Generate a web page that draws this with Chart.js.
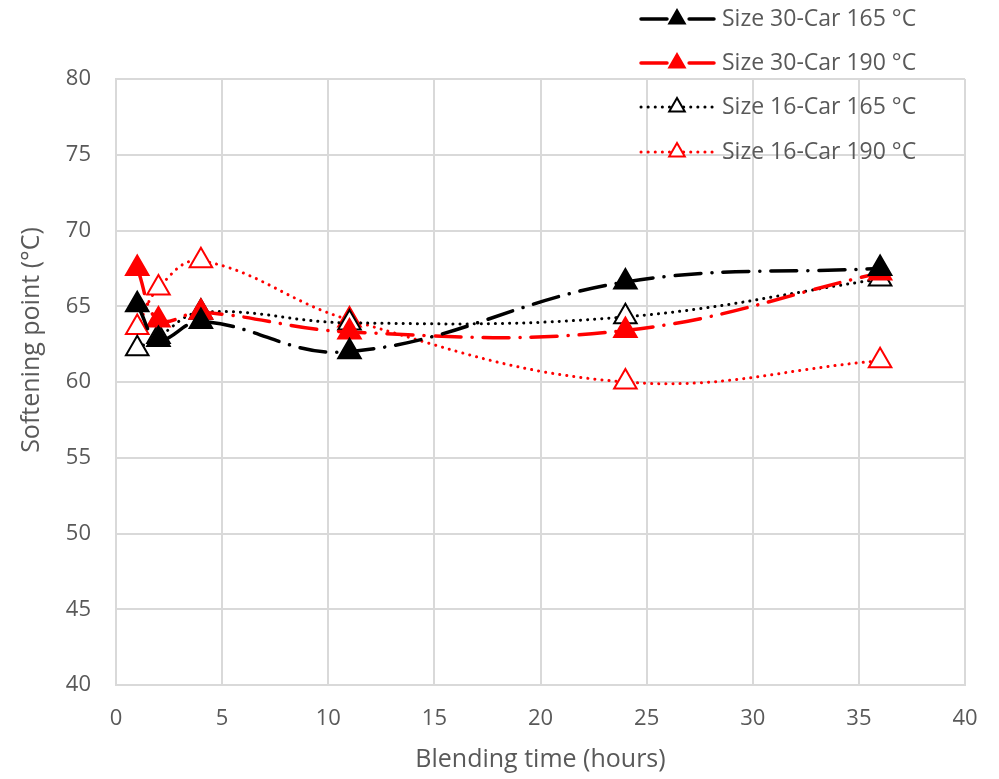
<!DOCTYPE html>
<html>
<head>
<meta charset="utf-8">
<script src="https://cdn.jsdelivr.net/npm/chart.js@4.4.1/dist/chart.umd.min.js"></script>
<style>
  html, body { margin: 0; padding: 0; background: #fff; }
  #wrap { width: 999px; height: 779px; }
</style>
</head>
<body>
<div id="wrap"><canvas id="softening"></canvas></div>
<script>
const blendHours = [1, 2, 4, 11, 24, 36]
const size30Car165 = [65.1, 62.8, 64.0, 62.0, 66.6, 67.5]
const size30Car190 = [67.5, 64.1, 64.6, 63.3, 63.4, 67.2]
const size16Car165 = [62.2, 63.0, 64.6, 63.9, 64.3, 66.8]
const size16Car190 = [63.6, 66.2, 68.0, 64.1, 60.0, 61.4]
const seriesNames = ["Size 30-Car 165 °C", "Size 30-Car 190 °C", "Size 16-Car 165 °C", "Size 16-Car 190 °C"]
const yTitle = "Softening point (°C)"

const fontFam = "'Open Sans', sans-serif"
const textCol = "#595959"
const gridCol = "#d9d9d9"
const dashDot = [26, 11, 0.1, 11]
const dotted = [0.1, 7]

const toPoints = (vals) => vals.map((v, i) => ({ x: blendHours[i], y: v }))

const makeSet = (label, vals, col, filled, dash, width) => ({
    label: label,
    data: toPoints(vals),
    borderColor: col,
    backgroundColor: col,
    borderWidth: width,
    borderDash: dash,
    borderCapStyle: 'round',
    tension: 0.4,
    pointStyle: 'triangle',
    pointRadius: 13,
    pointHoverRadius: 13,
    pointBackgroundColor: filled ? col : '#ffffff',
    pointBorderColor: col,
    pointBorderWidth: 2
})

// legend drawn Excel-like: line sample with marker in the middle
// plus the y title, which Excel puts a bit above the plot middle
const excelExtras = {
    id: 'excelExtras',
    afterDraw(chart) {
        const ctx = chart.ctx
        const rows = [19, 63, 107, 152]
        chart.data.datasets.forEach((ds, i) => {
            const y = rows[i]
            ctx.save()
            ctx.strokeStyle = ds.borderColor
            ctx.lineWidth = ds.borderWidth
            ctx.lineCap = 'round'
            ctx.setLineDash(ds.borderDash)
            ctx.beginPath()
            ctx.moveTo(641, y)
            ctx.lineTo(714, y)
            ctx.stroke()
            ctx.setLineDash([])
            ctx.lineWidth = 2
            ctx.fillStyle = ds.pointBackgroundColor
            Chart.helpers.drawPoint(ctx, { pointStyle: 'triangle', radius: 9, borderWidth: 2 }, 677, y)
            ctx.fillStyle = textCol
            ctx.font = "23px " + fontFam
            ctx.textBaseline = 'middle'
            ctx.textAlign = 'left'
            ctx.fillText(ds.label, 722, y)
            ctx.restore()
        })
        ctx.save()
        ctx.translate(32, 340)
        ctx.rotate(-Math.PI / 2)
        ctx.fillStyle = textCol
        ctx.font = "25px " + fontFam
        ctx.textAlign = 'center'
        ctx.textBaseline = 'middle'
        ctx.fillText(yTitle, 0, 0)
        ctx.restore()
    }
}

const ctx = document.getElementById('softening').getContext('2d')
const softeningChart = new Chart(ctx, {
    type: 'line',
    data: {
        datasets: [
            makeSet(seriesNames[0], size30Car165, '#000000', true, dashDot, 3.5),
            makeSet(seriesNames[1], size30Car190, '#ff0000', true, dashDot, 3.5),
            makeSet(seriesNames[2], size16Car165, '#000000', false, dotted, 3),
            makeSet(seriesNames[3], size16Car190, '#ff0000', false, dotted, 3)
        ]
    },
    options: {
        responsive: true,
        maintainAspectRatio: false,
        animation: false,
        layout: { padding: { top: 79, right: 34, left: 0, bottom: 0 } },
        plugins: {
            legend: { display: false },
            tooltip: { enabled: false }
        },
        scales: {
            x: {
                type: 'linear',
                min: 0,
                max: 40,
                ticks: { stepSize: 5, color: textCol, font: { family: fontFam, size: 22 }, padding: 21 },
                grid: { color: gridCol, lineWidth: 2, drawTicks: false },
                border: { color: gridCol, width: 2 },
                title: { display: true, text: "Blending time (hours)", color: textCol, font: { family: fontFam, size: 25 }, padding: { top: 0 } },
                afterFit: (scale) => { scale.height = 94 }
            },
            y: {
                min: 40,
                max: 80,
                ticks: { stepSize: 5, color: textCol, font: { family: fontFam, size: 22 }, padding: 25 },
                grid: { color: gridCol, lineWidth: 2, drawTicks: false },
                border: { color: gridCol, width: 2 },
                afterFit: (scale) => { scale.width = 116 }
            }
        }
    },
    plugins: [excelExtras]
})
</script>
</body>
</html>
